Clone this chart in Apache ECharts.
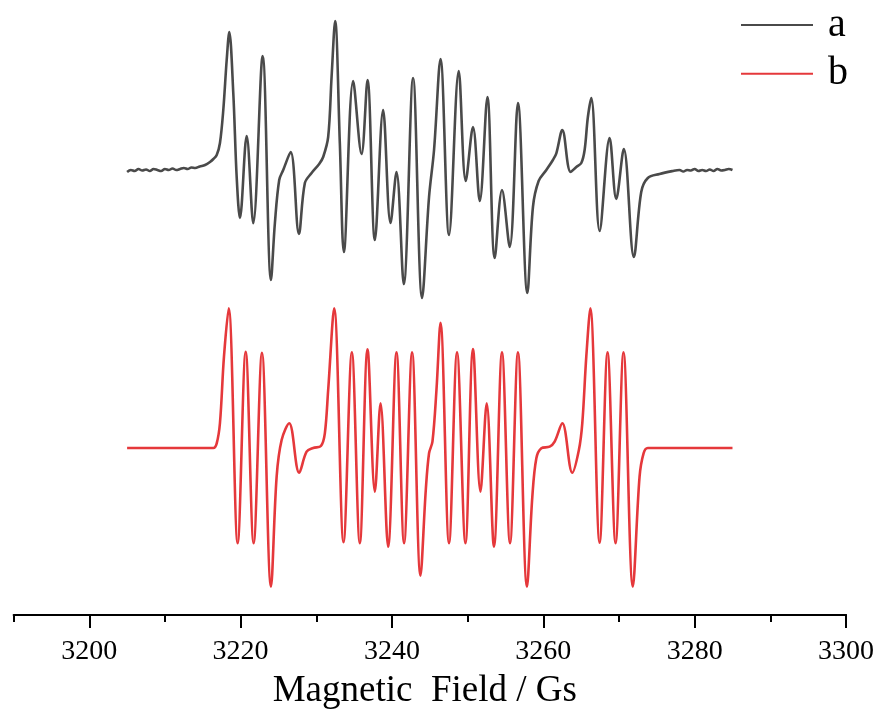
<!DOCTYPE html>
<html>
<head>
<meta charset="utf-8">
<script src="https://cdn.jsdelivr.net/npm/echarts@6/dist/echarts.min.js"></script>
<style>html,body{margin:0;padding:0;background:#fff;}#c{width:877px;height:711px;}</style>
</head>
<body>
<div id="c"></div>
<script>
// Magnetic field values (Gs) and signal for spectrum a (experimental, offset upward)
const fieldA = [3205.0,3205.5,3206.0,3206.5,3207.0,3207.5,3208.0,3208.5,3209.0,3209.5,3210.0,3210.5,3211.0,3211.5,3212.0,3212.5,3213.0,3213.5,3214.0,3214.6,3215.3,3215.95,3216.4,3216.84,3217.27,3217.71,3218.16,3218.5,3219.03,3219.48,3219.91,3220.8,3221.67,3222.91,3224.01,3224.53,3225.1,3225.63,3226.61,3227.7,3228.49,3229.38,3230.38,3230.91,3231.57,3232.02,3232.49,3233.11,3233.64,3234.87,3235.98,3236.77,3237.74,3238.83,3239.81,3240.6,3241.56,3242.79,3243.98,3244.9,3245.56,3246.41,3247.54,3248.82,3249.75,3250.71,3251.6,3252.61,3253.58,3254.54,3255.56,3256.65,3257.89,3258.63,3259.38,3260.4,3261.27,3261.72,3262.51,3263.61,3264.36,3265.02,3265.46,3265.89,3266.34,3267.44,3268.76,3269.64,3270.64,3271.96,3272.94,3273.81,3275.36,3277.11,3278.0,3278.5,3279.0,3279.5,3280.0,3280.5,3281.0,3281.5,3282.0,3282.5,3283.0,3283.5,3284.0,3284.5,3285.0];
const sigA = [443,445,444,446,444.5,445.5,444,446,445,444,446,445,446.5,445,446,447,446,447.5,447,448.5,450,453,456,460,472,505,555,583,522,438,397,479,391.7,559,335,392,435,445,463,381,432,442,451,458,478,538,594,472,363,534,461,535,375,505,392,443,331,537,317,418,465,556,380,544,434,488,414,518,357,425,368,512,322,408,434,445,455,461.7,485,443,448,452,465,498,517,384,477,416,466,358,423,437,441,444,445,443.5,445,444.5,446,444,445,444,445.5,444,446,444.5,445,446,445];

// Magnetic field values (Gs) and signal for spectrum b (simulation)
const fieldB = [3205.0,3210.0,3214.0,3215.5,3216.39,3216.84,3217.27,3217.8,3218.42,3219.61,3220.67,3221.72,3222.82,3224.01,3224.76,3225.42,3226.42,3227.74,3228.72,3229.59,3230.61,3231.13,3231.57,3232.36,3233.6,3234.7,3235.75,3236.77,3237.74,3238.49,3239.49,3240.6,3241.6,3242.66,3243.77,3244.47,3244.9,3245.35,3245.88,3246.41,3247.54,3248.6,3249.71,3250.71,3251.69,3252.52,3253.48,3254.54,3255.6,3256.65,3257.84,3258.55,3259.08,3259.74,3260.84,3261.5,3262.51,3263.83,3264.7,3265.15,3265.68,3266.21,3267.44,3268.49,3269.55,3270.6,3271.83,3272.72,3273.25,3273.81,3276.0,3280.0,3285.0];
const sigB = [167,167,167,167,167,171.7,192,258.3,306.7,71.7,263.3,71.7,262.3,28.3,138.3,175,191.7,142.3,163.3,167,169,181.7,225,306.7,72.7,262.7,71.7,265.7,123.3,211.7,68.3,262.7,71.7,262.7,39.3,125,161.7,173.3,225,292.3,71.7,262.7,71.7,266,123.3,211.7,68.3,262.7,71.7,262.7,28.3,118.3,156.7,166.7,168.3,173.3,191.7,142.3,165,191.7,258.3,306.7,72.3,262.7,71.7,262.7,28.3,138.3,161.7,167,167,167,167];

const seriesNames = ['a', 'b'];
const axisTitle = 'Magnetic  Field / Gs';

const zip = (xs, ys) => xs.map((x, i) => [x, ys[i]]);
const serif = '"Liberation Serif", "Times New Roman", serif';

const chart = echarts.init(document.getElementById('c'), null, {renderer: 'canvas'});
chart.setOption({
  animation: false,
  backgroundColor: '#ffffff',
  grid: [
    {left: 13.6, right: 31, top: 15, bottom: 96, containLabel: false, outerBoundsMode: 'none'},
    {left: 89.27, right: 31, top: 15, bottom: 96, containLabel: false, outerBoundsMode: 'none'}
  ],
  legend: {
    orient: 'vertical',
    left: 741,
    top: 5,
    padding: 0,
    itemWidth: 72,
    itemHeight: 2,
    itemGap: 8.7,
    icon: 'rect',
    data: seriesNames,
    textStyle: {fontFamily: serif, fontSize: 40, color: '#000', lineHeight: 40, padding: [0, 0, 0, 10]}
  },
  xAxis: [
    {
      gridIndex: 0, type: 'value', min: 3190, max: 3300, interval: 10,
      axisLine: {show: true, lineStyle: {color: '#000', width: 2}},
      axisTick: {show: true, length: 7, lineStyle: {color: '#000', width: 2}},
      axisLabel: {show: false},
      splitLine: {show: false},
      name: axisTitle, nameLocation: 'middle', nameGap: 58,
      nameTextStyle: {fontFamily: serif, fontSize: 37, color: '#000', padding: [0, 10, 0, 0]}
    },
    {
      gridIndex: 1, type: 'value', min: 3200, max: 3300, interval: 20,
      axisLine: {show: true, lineStyle: {color: '#000', width: 2}},
      axisTick: {show: true, length: 13, lineStyle: {color: '#000', width: 2}},
      axisLabel: {show: true, margin: 23, fontFamily: serif, fontSize: 28, color: '#000',
        formatter: v => String(v)},
      splitLine: {show: false}
    }
  ],
  yAxis: [
    {gridIndex: 0, type: 'value', min: 0, max: 600, show: false, splitLine: {show: false}},
    {gridIndex: 1, type: 'value', min: 0, max: 600, show: false, splitLine: {show: false}}
  ],
  series: [
    {name: seriesNames[0], type: 'line', xAxisIndex: 0, yAxisIndex: 0, data: zip(fieldA, sigA),
     showSymbol: false, smooth: 0.35, lineStyle: {color: '#4a4a4a', width: 2.6}, itemStyle: {color: '#4a4a4a'}},
    {name: seriesNames[1], type: 'line', xAxisIndex: 0, yAxisIndex: 0, data: zip(fieldB, sigB),
     showSymbol: false, smooth: 0.35, lineStyle: {color: '#e5383b', width: 2.6}, itemStyle: {color: '#e5383b'}}
  ]
});
</script>
</body>
</html>
